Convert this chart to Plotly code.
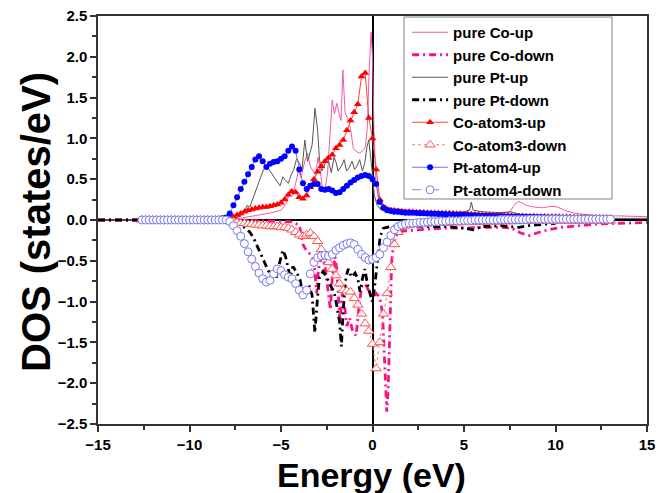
import numpy as np
import plotly.graph_objects as go

# ---------------- data ----------------
# energy grid of the atom-projected DOS (eV)
energy_atom = np.round(-12.6 + 0.2 * np.arange(129), 2)

# ---- Pt-atom4-up
pt4_up_left = [0.01, 0.01, 0.01, 0.01, 0.01, 0.01, 0.01, 0.01, 0.01, 0.01, 0.01, 0.01,
               0.01, 0.01, 0.01, 0.01, 0.01, 0.01, 0.01, 0.01, 0.01, 0.01, 0.02]
pt4_up_mid = [0.03, 0.08, 0.18, 0.28, 0.38, 0.47, 0.56, 0.65, 0.74, 0.78,
              0.72, 0.65, 0.69, 0.71, 0.72, 0.75, 0.78, 0.85, 0.90, 0.85,
              0.62, 0.45, 0.38, 0.42, 0.44, 0.44, 0.38, 0.37, 0.38, 0.36,
              0.33, 0.34, 0.38, 0.42, 0.46, 0.49, 0.52, 0.54, 0.55, 0.54,
              0.50, 0.44, 0.22, 0.15, 0.12, 0.11, 0.10, 0.10, 0.095, 0.09,
              0.09]
pt4_up_right = [0.088, 0.086, 0.084, 0.082, 0.08, 0.078, 0.076, 0.074, 0.072, 0.07,
                0.068, 0.066, 0.064, 0.062, 0.06, 0.058, 0.056, 0.054, 0.052, 0.05,
                0.049, 0.048, 0.047, 0.046, 0.045, 0.044, 0.043, 0.042, 0.041, 0.04,
                0.039, 0.038, 0.037, 0.036, 0.035, 0.034, 0.033, 0.032, 0.031, 0.03,
                0.03, 0.029, 0.028, 0.028, 0.027, 0.026, 0.025, 0.025, 0.024, 0.023,
                0.022, 0.022, 0.021, 0.02, 0.02]

# ---- Pt-atom4-down
pt4_dn_left = [0.0, 0.0, 0.0, 0.0, 0.0, 0.0, 0.0, 0.0, 0.0, 0.0, 0.0, 0.0,
               0.0, 0.0, 0.0, 0.0, 0.0, 0.0, 0.0, 0.0, 0.0, 0.0, 0.0]
pt4_dn_mid = [0.0, -0.02, -0.07, -0.13, -0.2, -0.29, -0.39, -0.48, -0.57, -0.65,
              -0.72, -0.76, -0.74, -0.66, -0.6, -0.62, -0.67, -0.7, -0.72, -0.78,
              -0.86, -0.92, -0.86, -0.66, -0.52, -0.46, -0.44, -0.43, -0.44, -0.42,
              -0.37, -0.34, -0.31, -0.29, -0.28, -0.3, -0.36, -0.42, -0.46, -0.49,
              -0.48, -0.46, -0.42, -0.34, -0.27, -0.19, -0.12, -0.08, -0.06, -0.05,
              -0.04]
pt4_dn_right = [-0.04, -0.035, -0.03, -0.03, -0.025, -0.02, -0.02, -0.02, -0.015, -0.015,
                -0.01, -0.01, -0.01, -0.01, -0.005, -0.005, -0.005, 0.0, 0.0, 0.0,
                0.0, 0.0, 0.0, 0.0, 0.005, 0.005, 0.005, 0.005, 0.005, 0.005,
                0.005, 0.005, 0.01, 0.01, 0.01, 0.01, 0.01, 0.01, 0.01, 0.01,
                0.01, 0.01, 0.01, 0.01, 0.01, 0.01, 0.01, 0.01, 0.01, 0.01,
                0.01, 0.01, 0.01, 0.01, 0.01]

# ---- Co-atom3-up
co3_up_left = [0.01, 0.01, 0.01, 0.01, 0.01, 0.01, 0.01, 0.01, 0.01, 0.01, 0.01, 0.01,
               0.01, 0.01, 0.01, 0.01, 0.01, 0.01, 0.01, 0.01, 0.01, 0.01, 0.01]
co3_up_mid = [0.01, 0.02, 0.04, 0.06, 0.08, 0.1, 0.12, 0.13, 0.14, 0.15,
              0.16, 0.16, 0.17, 0.18, 0.19, 0.21, 0.25, 0.31, 0.35, 0.34,
              0.28, 0.26, 0.3, 0.4, 0.5, 0.59, 0.66, 0.72, 0.76, 0.8,
              0.88, 0.92, 0.98, 1.1, 1.22, 1.32, 1.42, 1.76, 1.8, 1.25,
              1.0, 0.62, 0.25, 0.16, 0.13, 0.12, 0.115, 0.11, 0.105, 0.10,
              0.10]
co3_up_right = [0.098, 0.096, 0.094, 0.092, 0.09, 0.088, 0.086, 0.085, 0.084, 0.083,
                0.082, 0.08, 0.078, 0.076, 0.074, 0.072, 0.07, 0.068, 0.066, 0.064,
                0.062, 0.06, 0.058, 0.056, 0.055, 0.054, 0.053, 0.052, 0.05, 0.05,
                0.048, 0.047, 0.046, 0.045, 0.044, 0.043, 0.042, 0.041, 0.04, 0.04,
                0.039, 0.038, 0.037, 0.036, 0.035, 0.034, 0.034, 0.033, 0.032, 0.032,
                0.031, 0.031, 0.03, 0.03, 0.03]

# ---- Co-atom3-down
co3_dn_left = [0.0, 0.0, 0.0, 0.0, 0.0, 0.0, 0.0, 0.0, 0.0, 0.0, 0.0, 0.0,
               0.0, 0.0, 0.0, 0.0, 0.0, 0.0, 0.0, 0.0, 0.0, 0.0, 0.0]
co3_dn_mid = [0.0, -0.01, -0.02, -0.03, -0.04, -0.04, -0.05, -0.05, -0.06, -0.06,
              -0.07, -0.07, -0.08, -0.08, -0.08, -0.09, -0.09, -0.1, -0.12, -0.15,
              -0.18, -0.2, -0.18, -0.16, -0.2, -0.26, -0.36, -0.45, -0.52, -0.6,
              -0.68, -0.78, -0.86, -0.87, -0.88, -0.96, -1.04, -1.15, -1.27, -1.36,
              -1.52, -1.82, -1.5, -1.15, -0.9, -0.58, -0.3, -0.15, -0.09, -0.07,
              -0.06]
co3_dn_right = [-0.055, -0.05, -0.05, -0.045, -0.045, -0.04, -0.04, -0.04, -0.035, -0.035,
                -0.035, -0.03, -0.03, -0.03, -0.03, -0.025, -0.025, -0.025, -0.025, -0.02,
                -0.02, -0.02, -0.02, -0.02, -0.02, -0.018, -0.018, -0.018, -0.016, -0.016,
                -0.016, -0.015, -0.015, -0.015, -0.014, -0.014, -0.014, -0.013, -0.013, -0.013,
                -0.012, -0.012, -0.012, -0.012, -0.012, -0.012, -0.012, -0.012, -0.012, -0.012,
                -0.01, -0.01, -0.01, -0.01, -0.01]

# ---- pure Co-up
co_up_E = [-15, -8.0, -7.5, -7.0, -6.5, -6.0, -5.5, -5.0, -4.7, -4.5, -4.35, -4.2, -4.05,
           -3.9, -3.7, -3.55, -3.4, -3.25, -3.1, -2.98, -2.85, -2.75, -2.6, -2.45, -2.32,
           -2.2, -2.08, -1.95, -1.8, -1.72, -1.62, -1.5, -1.35, -1.2, -1.05, -0.9, -0.7,
           -0.5, -0.38, -0.28, -0.18, -0.08, 0.0, 0.08, 0.18, 0.3, 0.5, 0.8, 1.2, 2, 3, 4,
           5, 6, 7, 7.5, 7.8, 8.0, 8.4, 8.8, 9.3, 9.8, 10.1, 10.5, 10.9, 11.5, 12.5, 13.5, 15]
co_up_D = [0.0, 0.0, 0.01, 0.03, 0.05, 0.07, 0.09, 0.12, 0.2, 0.38, 0.3, 0.45, 0.6,
           0.52, 0.72, 0.82, 0.66, 0.6, 0.55, 0.77, 0.6, 0.4, 0.36, 0.6, 1.0,
           1.47, 1.3, 1.43, 1.28, 1.22, 1.84, 1.32, 1.24, 1.12, 0.88, 0.84, 0.82,
           0.86, 0.9, 1.15, 1.85, 2.3, 2.0, 1.1, 0.5, 0.28, 0.2, 0.16, 0.14, 0.12, 0.1, 0.09,
           0.09, 0.08, 0.08, 0.1, 0.2, 0.23, 0.18, 0.16, 0.15, 0.17, 0.16, 0.12, 0.09, 0.07, 0.05, 0.05, 0.04]

# ---- pure Co-down
co_dn_E = [-15, -8.0, -6.0, -4.5, -4.0, -3.8, -3.6, -3.4, -3.2, -3.05, -2.95, -2.8, -2.6,
           -2.4, -2.3, -2.2, -2.05, -1.95, -1.85, -1.78, -1.65, -1.5, -1.4, -1.25, -1.1,
           -0.9, -0.75, -0.6, -0.45, -0.3, -0.15, 0.0, 0.2, 0.4, 0.55, 0.68, 0.78, 0.86,
           0.95, 1.05, 1.2, 1.5, 2.5, 4, 5, 6, 7, 7.6, 8.1, 8.6, 9.1, 9.6, 10.3, 11.2,
           12.3, 13.5, 15]
co_dn_D = [0.0, 0.0, -0.01, -0.02, -0.06, -0.3, -0.38, -0.42, -0.5, -0.9, -0.6, -0.45, -0.55,
           -0.9, -1.1, -0.7, -0.45, -0.6, -1.0, -1.25, -0.9, -1.1, -1.3, -1.2, -1.35,
           -1.42, -1.1, -0.82, -0.78, -0.82, -0.9, -0.95, -0.9, -0.95, -1.15, -1.75, -2.35, -2.05,
           -1.2, -0.5, -0.22, -0.14, -0.12, -0.1, -0.1, -0.09, -0.09, -0.1, -0.16, -0.19, -0.15,
           -0.12, -0.09, -0.07, -0.05, -0.04, -0.03]

# ---- pure Pt-up
pt_up_E = [-15, -8.0, -7.5, -7.2, -7.0, -6.85, -6.7, -6.55, -6.35, -6.15, -5.95, -5.8, -5.6,
           -5.4, -5.2, -5.05, -4.9, -4.75, -4.6, -4.45, -4.3, -4.15, -4.0, -3.85, -3.7,
           -3.55, -3.42, -3.3, -3.14, -3.0, -2.9, -2.78, -2.65, -2.5, -2.38, -2.25, -2.1,
           -1.98, -1.88, -1.7, -1.55, -1.42, -1.28, -1.12, -0.98, -0.85, -0.7, -0.55, -0.42,
           -0.3, -0.2, -0.1, 0.0, 0.1, 0.25, 0.5, 1.0, 2, 3, 4, 5, 5.3, 5.4, 5.5, 6, 7,
           7.6, 8, 9, 10, 11, 12, 13, 15]
pt_up_D = [0.0, 0.0, 0.02, 0.05, 0.1, 0.18, 0.16, 0.26, 0.38, 0.5, 0.62, 0.66, 0.6,
           0.53, 0.47, 0.42, 0.53, 0.48, 0.45, 0.55, 0.62, 0.75, 0.7, 0.62, 0.98,
           0.72, 0.82, 0.92, 1.37, 1.1, 0.75, 0.6, 0.65, 0.78, 0.7, 0.58, 0.77,
           0.7, 0.6, 0.66, 0.74, 0.6, 0.64, 0.72, 0.62, 0.66, 0.74, 0.6, 0.7,
           0.9, 0.98, 0.8, 0.55, 0.3, 0.18, 0.12, 0.1, 0.1, 0.09, 0.09, 0.1, 0.12, 0.22, 0.12, 0.1, 0.09,
           0.1, 0.07, 0.05, 0.04, 0.03, 0.03, 0.02, 0.02]

# ---- pure Pt-down
pt_dn_E = [-15, -8.0, -7.6, -7.3, -7.0, -6.7, -6.5, -6.3, -6.1, -5.9, -5.7, -5.5, -5.25,
           -5.05, -4.9, -4.75, -4.6, -4.5, -4.35, -4.15, -3.95, -3.8, -3.6, -3.45, -3.3,
           -3.15, -3.02, -2.9, -2.7, -2.5, -2.3, -2.1, -1.95, -1.8, -1.7, -1.6, -1.45,
           -1.32, -1.15, -0.95, -0.8, -0.68, -0.55, -0.42, -0.28, -0.12, -0.02, 0.1, 0.22,
           0.3, 0.42, 0.6, 1.0, 2, 3, 4, 5, 5.5, 6, 7, 8, 8.5, 10]
pt_dn_D = [0.0, 0.0, -0.01, -0.05, -0.09, -0.15, -0.22, -0.32, -0.42, -0.52, -0.62, -0.67, -0.69,
           -0.5, -0.37, -0.45, -0.62, -0.7, -0.57, -0.64, -0.74, -0.94, -0.84, -0.82, -0.92,
           -1.38, -1.0, -0.7, -0.63, -0.7, -0.8, -0.88, -1.05, -1.25, -1.55, -1.1, -0.7,
           -0.6, -0.7, -0.65, -0.72, -0.88, -0.72, -0.6, -0.78, -0.92, -1.0, -0.85, -0.6,
           -0.37, -0.2, -0.1, -0.08, -0.07, -0.08, -0.08, -0.1, -0.12, -0.08, -0.07, -0.09, -0.07, -0.04]

legend_names = ["pure Co-up", "pure Co-down", "pure Pt-up", "pure Pt-down",
                "Co-atom3-up", "Co-atom3-down", "Pt-atom4-up", "Pt-atom4-down"]
x_title = "Energy (eV)"
y_title = "DOS (states/eV)"

pt4_up = pt4_up_left + pt4_up_mid + pt4_up_right
pt4_dn = pt4_dn_left + pt4_dn_mid + pt4_dn_right
co3_up = co3_up_left + co3_up_mid + co3_up_right
co3_dn = co3_dn_left + co3_dn_mid + co3_dn_right

# ---------------- figure ----------------
FONT = "Liberation Sans, Arial, sans-serif"
DASHDOT = "7px,4px,2px,4px"

fig = go.Figure()

fig.add_trace(go.Scatter(x=co_up_E, y=co_up_D, name=legend_names[0], mode="lines",
                         line=dict(color="#f25aa8", width=1)))
fig.add_trace(go.Scatter(x=co_dn_E, y=co_dn_D, name=legend_names[1], mode="lines",
                         line=dict(color="#ff0f87", width=2.8, dash=DASHDOT)))
fig.add_trace(go.Scatter(x=pt_up_E, y=pt_up_D, name=legend_names[2], mode="lines",
                         line=dict(color="#555555", width=1)))
fig.add_trace(go.Scatter(x=pt_dn_E, y=pt_dn_D, name=legend_names[3], mode="lines",
                         line=dict(color="#000000", width=2.8, dash=DASHDOT)))
fig.add_trace(go.Scatter(x=energy_atom, y=co3_up, name=legend_names[4], mode="lines+markers",
                         line=dict(color="#ff4040", width=1),
                         marker=dict(symbol="triangle-up", size=7, color="#ff0000",
                                     line=dict(width=0))))
fig.add_trace(go.Scatter(x=energy_atom, y=co3_dn, name=legend_names[5], mode="lines+markers",
                         line=dict(color="#ff7070", width=1, dash="dot"),
                         marker=dict(symbol="triangle-up", size=9, color="white",
                                     line=dict(color="#ff5050", width=1))))
fig.add_trace(go.Scatter(x=energy_atom, y=pt4_up, name=legend_names[6], mode="lines+markers",
                         line=dict(color="#7070ff", width=1),
                         marker=dict(symbol="circle", size=6, color="#0000ff",
                                     line=dict(width=0))))
fig.add_trace(go.Scatter(x=energy_atom, y=pt4_dn, name=legend_names[7], mode="lines+markers",
                         line=dict(color="#8080ff", width=1, dash="dash"),
                         marker=dict(symbol="circle", size=8, color="white",
                                     line=dict(color="#7878f0", width=1))))

axis_common = dict(
    showline=True, linecolor="#333333", linewidth=1.5, mirror=True,
    ticks="outside", ticklen=6, tickwidth=1.5, tickcolor="#333333",
    showgrid=False, zeroline=True, zerolinecolor="#000000", zerolinewidth=1.5,
    automargin=False, ticklabeloverflow="allow",
    tickfont=dict(family=FONT, size=15, color="#000000", weight="bold"),
)

fig.update_xaxes(range=[-15, 15], dtick=5, tick0=-15,
                 minor=dict(dtick=2.5, ticks="outside", ticklen=4, tickwidth=1.5,
                            tickcolor="#333333", showgrid=False),
                 **axis_common)
fig.update_yaxes(range=[-2.5, 2.5], dtick=0.5, tick0=-2.5, tickformat=".1f",
                 minor=dict(dtick=0.25, ticks="outside", ticklen=4, tickwidth=1.5,
                            tickcolor="#333333", showgrid=False),
                 **axis_common)

# legend frame (wider than the entries, as in the reference)
fig.add_shape(type="rect", xref="paper", yref="paper",
              x0=0.5574, x1=0.9362, y0=0.5515, y1=0.9975,
              line=dict(color="#808080", width=1), fillcolor="white", layer="above")

fig.add_annotation(text=x_title, xref="paper", yref="paper", x=0.499, y=-0.125,
                   xanchor="center", yanchor="middle", showarrow=False,
                   font=dict(family=FONT, size=34, color="#000000", weight="bold"))
fig.add_annotation(text=y_title, xref="paper", yref="paper", x=-0.113, y=0.495,
                   xanchor="center", yanchor="middle", showarrow=False, textangle=-90,
                   font=dict(family=FONT, size=40, color="#000000", weight="bold"))

# the page body has an 8 px margin, so the figure is 8 px smaller on each side
fig.update_layout(
    width=659, height=485,
    margin=dict(l=90, r=20, t=8, b=69, autoexpand=False),
    paper_bgcolor="white", plot_bgcolor="white",
    showlegend=True,
    legend=dict(x=0.563, y=1.0, xanchor="left", yanchor="top",
                bgcolor="rgba(0,0,0,0)", borderwidth=0,
                font=dict(family=FONT, size=15, color="#000000", weight="bold"),
                tracegroupgap=0, itemwidth=36),
)

fig.write_html("out.html")
